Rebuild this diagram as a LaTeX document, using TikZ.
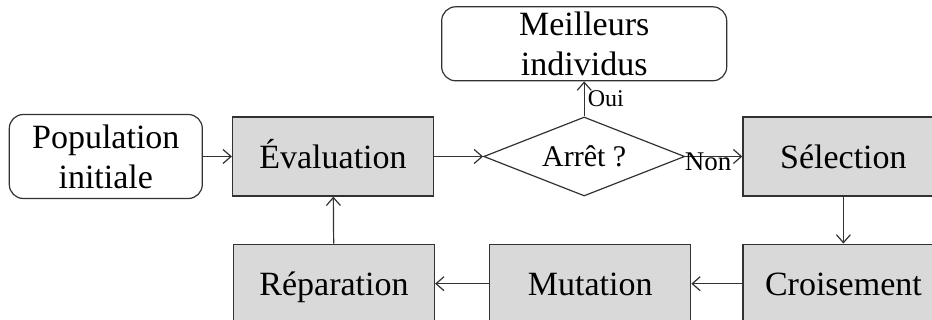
\documentclass[tikz,border=0pt]{standalone}
\usepackage{fontspec}
\setmainfont{Liberation Serif}
\usetikzlibrary{shapes.geometric, arrows.meta, positioning}
\definecolor{boxgray}{RGB}{217,217,217}
\definecolor{linegray}{RGB}{50,50,50}

\begin{document}
\begin{tikzpicture}[
        every node/.style={text=black},
        stage/.style={rectangle, draw=linegray, fill=boxgray, line width=0.6pt, minimum width=100.5pt, minimum height=39.5pt, inner sep=0pt, text height=13.5pt, text depth=1.5pt, align=center, font=\fontsize{17}{20}\selectfont},
        terminal/.style={rectangle, draw=linegray, fill=white, rounded corners=7pt, line width=0.6pt, inner sep=0pt, align=center, font=\fontsize{17}{20}\selectfont},
        test/.style={diamond, draw=linegray, fill=white, line width=0.6pt, aspect=2.5, minimum width=100.5pt, minimum height=39.5pt, inner sep=0pt, font=\fontsize{15}{18}\selectfont},
        flow/.style={-{Straight Barb[length=4pt, width=7pt]}, line width=0.6pt, linegray}
    ]
        \useasboundingbox (0,0) rectangle (466pt,-160pt);
        \node[stage] (evaluation) at (166.5pt,-78.25pt) {Évaluation};
        \node[terminal, minimum width=96.5pt, minimum height=42pt, left=14.5pt of evaluation] (population) {Population\\initiale};
        \node[test, right=24.5pt of evaluation] (arret) {Arrêt ?};
        \node[terminal, minimum width=142.5pt, minimum height=37pt, above=17.5pt of arret] (meilleurs) {Meilleurs\\individus};
        \node[stage, right=28.5pt of arret] (selection) {Sélection};
        \node[stage, below=23.5pt of selection] (croisement) {Croisement};
        \node[stage, left=25.5pt of croisement] (mutation) {Mutation};
        \node[stage, left=27pt of mutation] (reparation) {Réparation};

        \draw[flow] (population) -- (evaluation);
        \draw[flow] (evaluation) -- (arret);
        \draw[flow] (arret.north) -- node[right, pos=0.5, inner sep=1.5pt, font=\fontsize{12}{14}\selectfont] (oui) {Oui} (meilleurs);
        \draw[flow] (arret.east) -- node[below, pos=0.4, inner sep=0pt, yshift=2pt, font=\fontsize{13.5}{15}\selectfont] (non) {Non} (selection);
        \draw[flow] (selection) -- (croisement);
        \draw[flow] (croisement) -- (mutation);
        \draw[flow] (mutation) -- (reparation);
        \draw[flow] (reparation) -- (evaluation);
    \end{tikzpicture}
\end{document}
